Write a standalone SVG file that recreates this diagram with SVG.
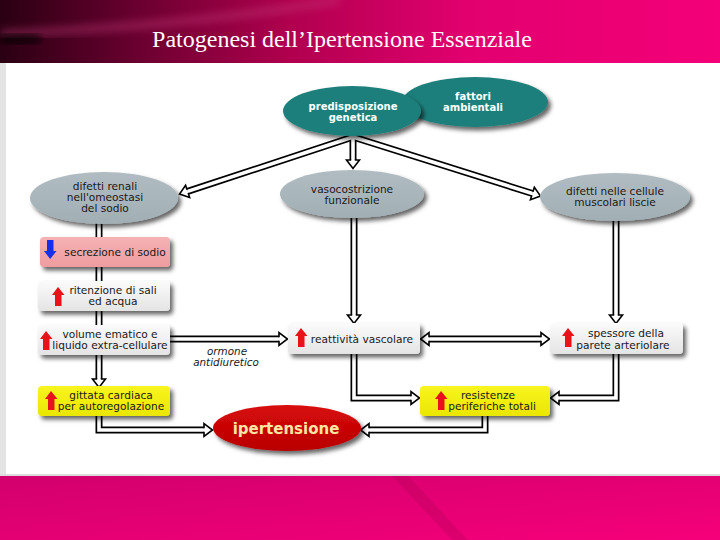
<svg xmlns="http://www.w3.org/2000/svg" width="720" height="540" viewBox="0 0 720 540">
<defs>
<style>
.out{fill:none;stroke:#000;stroke-width:7;stroke-linejoin:miter}
.in{fill:none;stroke:#fff;stroke-width:3.6;stroke-linejoin:miter}
.t{font-family:"DejaVu Sans",Verdana,sans-serif;font-size:10.6px;fill:#1a1a1a;text-anchor:middle}
.tw{font-family:"DejaVu Sans",Verdana,sans-serif;font-size:10px;font-weight:bold;fill:#fff;text-anchor:middle}
.ti{font-family:"DejaVu Sans",Verdana,sans-serif;font-size:10.4px;font-style:italic;fill:#1a1a1a;text-anchor:middle}
.sh{filter:url(#sh)}
.gray{fill:url(#gE)}
.teal{fill:#1f7f7b}
.lt{fill:url(#gL)}
.pk{fill:url(#gP)}
.ye{fill:url(#gY)}
.up{fill:#e8121a}
.dn{fill:#1530e8}
</style>
<filter id="sh" x="-20%" y="-30%" width="150%" height="170%">
<feDropShadow dx="3" dy="3.5" stdDeviation="2" flood-color="#000" flood-opacity="0.6"/>
</filter>
<filter id="blur"><feGaussianBlur stdDeviation="4"/></filter>
<linearGradient id="gE" x1="0" y1="0" x2="0" y2="1"><stop offset="0" stop-color="#b0bcc1"/><stop offset="1" stop-color="#a1afb5"/></linearGradient>
<linearGradient id="gL" x1="0" y1="0" x2="0" y2="1"><stop offset="0" stop-color="#fbfbfb"/><stop offset="1" stop-color="#e4e4e4"/></linearGradient>
<linearGradient id="gP" x1="0" y1="0" x2="0" y2="1"><stop offset="0" stop-color="#f5b2b4"/><stop offset="1" stop-color="#ee9c9f"/></linearGradient>
<linearGradient id="gY" x1="0" y1="0" x2="0" y2="1"><stop offset="0" stop-color="#f8f520"/><stop offset="1" stop-color="#ebe600"/></linearGradient>
<linearGradient id="gR" x1="0" y1="0" x2="0" y2="1"><stop offset="0" stop-color="#d80a0a"/><stop offset="1" stop-color="#b80000"/></linearGradient>
<linearGradient id="gTop" x1="0" y1="0" x2="1" y2="0"><stop offset="0" stop-color="#2a0012"/><stop offset="0.15" stop-color="#5c0029"/><stop offset="0.4" stop-color="#b0004e"/><stop offset="0.65" stop-color="#e2006f"/><stop offset="1" stop-color="#f40078"/></linearGradient>
<linearGradient id="gBot" x1="0" y1="0" x2="1" y2="1"><stop offset="0" stop-color="#d2006c"/><stop offset="1" stop-color="#f6007a"/></linearGradient>
<marker id="ah" markerUnits="userSpaceOnUse" orient="auto-start-reverse" refX="0" refY="0" markerWidth="14" markerHeight="20" viewBox="-2 -10 14 20" overflow="visible">
<path d="M0,-1.8 L0,-6.5 L8.5,0 L0,6.5 L0,1.8" fill="#fff" stroke="#000" stroke-width="1.6"/>
</marker>
<path id="upA" d="M6,0 L12.5,8 L9.5,8 L9.5,19 L3,19 L3,8 L0,8 Z"/>
<path id="dnA" d="M3,0 L9.5,0 L9.5,11 L12.5,11 L6.2,19 L0,11 L3,11 Z"/>
</defs>

<g id="background">
<rect x="0" y="0" width="720" height="540" fill="#fff"/>
<rect x="0" y="62" width="6" height="414" fill="#e3e3e3"/>
<rect x="0" y="0" width="720" height="63" fill="url(#gTop)"/>
<path d="M0,34 Q190,26 340,0" fill="none" stroke="#c23a78" stroke-width="8" opacity="0.45" filter="url(#blur)"/>
<rect x="0" y="34" width="40" height="10" fill="#000" opacity="0.7" filter="url(#blur)"/>
<rect x="0" y="474" width="720" height="2" fill="#dcdcdc"/>
<rect x="0" y="476" width="720" height="64" fill="url(#gBot)"/>
<polygon points="392,476 408,476 468,540 452,540" fill="#b8005c" opacity="0.35"/>
<text x="342" y="47" font-family="'Liberation Serif','Times New Roman',serif" font-size="24" fill="#fff" text-anchor="middle">Patogenesi dell’Ipertensione Essenziale</text>
</g>

<g id="connectors">
<path class="out" d="M187.6,191.4 L353,137 L532.4,193.5"/>
<path class="out" d="M353,137 L353,160"/>
<path class="out" d="M99,222 L99,379"/>
<path class="out" d="M170,339 L279,339"/>
<path class="out" d="M354,218 L354,315"/>
<path class="out" d="M616,220 L616,315"/>
<path class="out" d="M429,339 L541,339"/>
<path class="out" d="M354,353 L354,398 L411,398"/>
<path class="out" d="M616,353 L616,398 L559,398"/>
<path class="out" d="M485,414 L485,430 L369,430"/>
<path class="out" d="M99,414 L99,430 L204,430"/>
<path class="in" d="M187.6,191.4 L353,137 L532.4,193.5" marker-start="url(#ah)" marker-end="url(#ah)"/>
<path class="in" d="M353,137 L353,160" marker-end="url(#ah)"/>
<path class="in" d="M99,222 L99,379" marker-end="url(#ah)"/>
<path class="in" d="M170,339 L279,339" marker-end="url(#ah)"/>
<path class="in" d="M354,218 L354,315" marker-end="url(#ah)"/>
<path class="in" d="M616,220 L616,315" marker-end="url(#ah)"/>
<path class="in" d="M429,339 L541,339" marker-start="url(#ah)" marker-end="url(#ah)"/>
<path class="in" d="M354,353 L354,398 L411,398" marker-end="url(#ah)"/>
<path class="in" d="M616,353 L616,398 L559,398" marker-end="url(#ah)"/>
<path class="in" d="M485,414 L485,430 L369,430" marker-end="url(#ah)"/>
<path class="in" d="M99,414 L99,430 L204,430" marker-end="url(#ah)"/>
<text class="ti" x="227" y="355">ormone</text>
<text class="ti" x="226" y="366">antidiuretico</text>
</g>

<g id="fattori">
<ellipse class="teal sh" cx="475" cy="102" rx="73" ry="25"/>
<text class="tw" x="473" y="100">fattori</text>
<text class="tw" x="473" y="111">ambientali</text>
</g>
<g id="predisposizione">
<ellipse class="teal sh" cx="352" cy="111" rx="69" ry="25"/>
<text class="tw" x="353" y="109.5">predisposizione</text>
<text class="tw" x="353" y="120.5">genetica</text>
</g>
<g id="difetti-renali">
<ellipse class="gray sh" cx="104" cy="198" rx="74" ry="26"/>
<text class="t" x="105" y="190">difetti renali</text>
<text class="t" x="105" y="201">nell'omeostasi</text>
<text class="t" x="105" y="212">del sodio</text>
</g>
<g id="vasocostrizione">
<ellipse class="gray sh" cx="352" cy="194" rx="72" ry="24"/>
<text class="t" x="352" y="193">vasocostrizione</text>
<text class="t" x="352" y="204">funzionale</text>
</g>
<g id="difetti-cellule">
<ellipse class="gray sh" cx="615" cy="197" rx="75" ry="24"/>
<text class="t" x="615" y="195">difetti nelle cellule</text>
<text class="t" x="615" y="206">muscolari liscie</text>
</g>
<g id="secrezione">
<rect class="pk sh" x="40" y="237" width="130" height="30" rx="4"/>
<use href="#dnA" class="dn" x="44" y="240"/>
<text class="t" x="115" y="256">secrezione di sodio</text>
</g>
<g id="ritenzione">
<rect class="lt sh" x="38" y="281" width="132" height="30" rx="4"/>
<use href="#upA" class="up" x="52" y="287"/>
<text class="t" x="113" y="294">ritenzione di sali</text>
<text class="t" x="113" y="305">ed acqua</text>
</g>
<g id="volume">
<rect class="lt sh" x="38" y="325" width="132" height="30" rx="4"/>
<use href="#upA" class="up" x="40" y="331"/>
<text class="t" x="110" y="338">volume ematico e</text>
<text class="t" x="110" y="349">liquido extra-cellulare</text>
</g>
<g id="gittata">
<rect class="ye sh" x="38" y="386" width="132" height="30" rx="4"/>
<use href="#upA" class="up" x="45" y="391"/>
<text class="t" x="111" y="399">gittata cardiaca</text>
<text class="t" x="111" y="410">per autoregolazione</text>
</g>
<g id="reattivita">
<rect class="lt sh" x="288" y="323" width="132" height="31" rx="4"/>
<use href="#upA" class="up" x="295" y="328"/>
<text class="t" x="362" y="343">reattività vascolare</text>
</g>
<g id="spessore">
<rect class="lt sh" x="550" y="323" width="133" height="31" rx="4"/>
<use href="#upA" class="up" x="562" y="328"/>
<text class="t" x="626" y="337">spessore della</text>
<text class="t" x="623" y="349">parete arteriolare</text>
</g>
<g id="resistenze">
<rect class="ye sh" x="420" y="386" width="130" height="30" rx="4"/>
<use href="#upA" class="up" x="435" y="391"/>
<text class="t" x="488" y="399">resistenze</text>
<text class="t" x="492" y="410">periferiche totali</text>
</g>
<g id="ipertensione">
<ellipse class="sh" cx="287" cy="428" rx="74" ry="23" fill="url(#gR)"/>
<text x="286" y="433.5" font-family="'DejaVu Sans',Verdana,sans-serif" font-size="15" font-weight="bold" fill="#fbe6a2" text-anchor="middle">ipertensione</text>
</g>
</svg>
